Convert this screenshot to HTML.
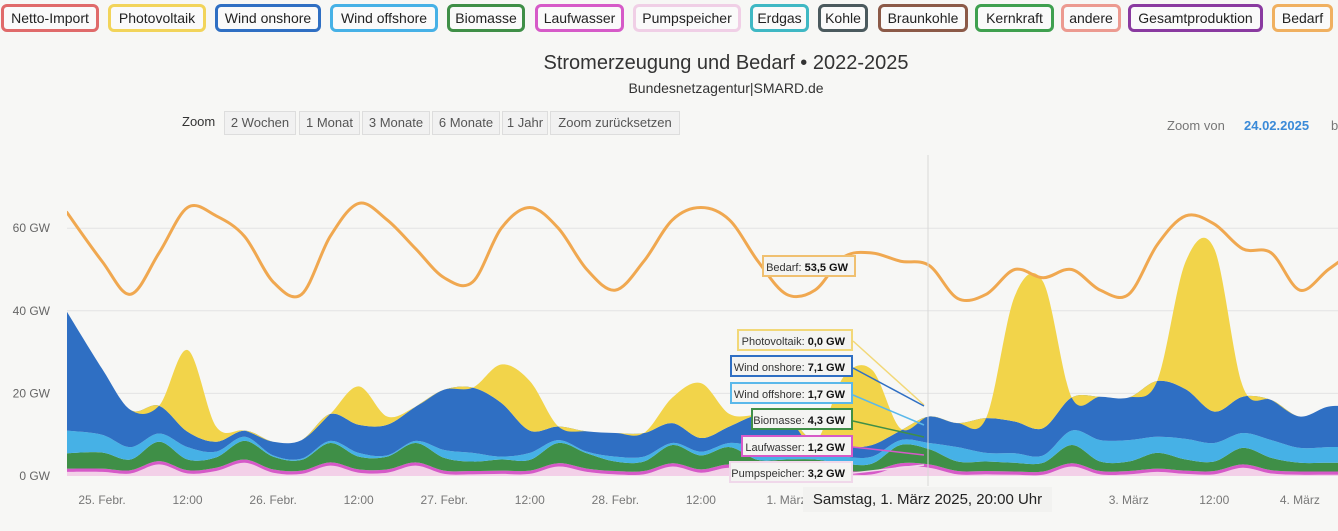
<!DOCTYPE html>
<html><head><meta charset="utf-8">
<style>
body{margin:0;width:1338px;height:531px;overflow:hidden;background:#f7f7f5;font-family:"Liberation Sans",sans-serif;position:relative}
.lg{position:absolute;top:4px;height:22px;border:3px solid;border-radius:6px;font-size:14px;color:#222;line-height:22px;text-align:center;box-sizing:content-box;background:#fafafa}
.zb{position:absolute;top:111px;height:22px;line-height:22px;border:1px solid #ddd;background:#f1f1f1;font-size:13px;color:#555;text-align:center}
.tt{position:absolute;height:22px;line-height:22px;border:2px solid;background:#f4f4f2;font-size:11px;color:#333;text-align:right;padding-right:6px;box-sizing:border-box}
.tt b{color:#111}
</style></head><body>
<div class="lg" style="left:1px;width:92px;border-color:#e06a6a">Netto-Import</div>
<div class="lg" style="left:108px;width:92px;border-color:#f2d45a">Photovoltaik</div>
<div class="lg" style="left:215px;width:100px;border-color:#2f6fc3">Wind onshore</div>
<div class="lg" style="left:330px;width:102px;border-color:#46b1e6">Wind offshore</div>
<div class="lg" style="left:447px;width:72px;border-color:#3f8f47">Biomasse</div>
<div class="lg" style="left:535px;width:83px;border-color:#d65ac8">Laufwasser</div>
<div class="lg" style="left:633px;width:102px;border-color:#f0cfe6">Pumpspeicher</div>
<div class="lg" style="left:750px;width:53px;border-color:#3fb8c4">Erdgas</div>
<div class="lg" style="left:818px;width:44px;border-color:#4b5a5e">Kohle</div>
<div class="lg" style="left:878px;width:84px;border-color:#8c5a48">Braunkohle</div>
<div class="lg" style="left:975px;width:73px;border-color:#3fa04f">Kernkraft</div>
<div class="lg" style="left:1061px;width:54px;border-color:#ec9a90">andere</div>
<div class="lg" style="left:1128px;width:129px;border-color:#8a3aa0">Gesamtproduktion</div>
<div class="lg" style="left:1272px;width:55px;border-color:#f0b060">Bedarf</div>

<div style="position:absolute;left:426px;width:600px;top:52px;text-align:center;font-size:20px;color:#333">Stromerzeugung und Bedarf &#8226; 2022-2025</div>
<div style="position:absolute;left:526px;width:400px;top:80px;text-align:center;font-size:14px;color:#333">Bundesnetzagentur|SMARD.de</div>

<div style="position:absolute;left:182px;top:114px;font-size:13px;color:#333">Zoom</div>
<div class="zb" style="left:224px;width:70px">2 Wochen</div>
<div class="zb" style="left:299px;width:59px">1 Monat</div>
<div class="zb" style="left:362px;width:66px">3 Monate</div>
<div class="zb" style="left:432px;width:66px">6 Monate</div>
<div class="zb" style="left:502px;width:44px">1 Jahr</div>
<div class="zb" style="left:550px;width:128px">Zoom zurücksetzen</div>
<div style="position:absolute;left:1167px;top:118px;font-size:13px;color:#777">Zoom von</div>
<div style="position:absolute;left:1244px;top:118px;font-size:13px;color:#3a8ad8;font-weight:bold">24.02.2025</div>
<div style="position:absolute;left:1331px;top:118px;font-size:13px;color:#777">b</div>

<svg id="chart" width="1338" height="531" style="position:absolute;left:0;top:0">
<defs><clipPath id="pc"><rect x="67" y="140" width="1271" height="345"/></clipPath></defs>
<g id="grid"></g><g id="areas" clip-path="url(#pc)"></g><g id="axes"></g>
</svg>

<div class="tt" style="left:762px;top:255px;width:94px;border-color:#f0c070">Bedarf: <b>53,5 GW</b></div>
<div class="tt" style="left:737px;top:329px;width:116px;border-color:#f2d878">Photovoltaik: <b>0,0 GW</b></div>
<div class="tt" style="left:730px;top:355px;width:123px;border-color:#2f6fc3">Wind onshore: <b>7,1 GW</b></div>
<div class="tt" style="left:730px;top:382px;width:123px;border-color:#5ab8ea">Wind offshore: <b>1,7 GW</b></div>
<div class="tt" style="left:751px;top:408px;width:102px;border-color:#3f8f47">Biomasse: <b>4,3 GW</b></div>
<div class="tt" style="left:741px;top:435px;width:112px;border-color:#d65ac8">Laufwasser: <b>1,2 GW</b></div>
<div class="tt" style="left:729px;top:461px;width:124px;border-color:#f0d8ea">Pumpspeicher: <b>3,2 GW</b></div>
<div style="position:absolute;left:803px;top:487px;width:249px;height:25px;line-height:25px;background:#f2f2f0;font-size:15px;color:#222;text-align:center">Samstag, 1. März 2025, 20:00 Uhr</div>

<script>
const times=[-5,0,4,8,12,16,20,24,28,32,36,40,44,48,52,56,60,64,68,72,76,80,84,88,92,96,100,104,108,112,116,120,124,128,132,136,140,144,148,152,156,160,164,168,172,176];
const pump=[1.0,1.0,0.6,2.8,0.6,1.2,3.2,0.8,0.5,2.5,0.8,0.8,2.5,0.5,0.4,0.5,0.5,2.3,1.0,0.4,0.4,2.3,0.8,2.0,0.6,0.6,0.6,0.4,0.4,2.3,2.0,0.4,0.4,0.3,0.3,2.3,0.4,0.4,1.0,0.5,0.4,2.0,0.6,0.3,0.3,0.3];
const lauf=[0.8,0.8,0.8,0.8,0.8,0.8,0.8,0.8,0.8,0.8,0.8,0.8,0.8,0.8,0.8,0.8,0.8,0.8,0.8,0.8,0.8,0.8,0.8,0.8,0.8,0.8,0.8,0.8,0.8,0.8,0.8,0.8,0.8,0.8,0.8,0.8,0.8,0.8,0.8,0.8,0.8,0.8,0.8,0.8,0.8,0.8];
const bio=[3.7,3.9,2.6,4.7,2.6,2.5,4.5,3.1,2.6,4.7,3.1,3.1,4.7,3.1,2.3,2.7,2.6,4.9,3.7,2.3,2.3,4.4,3.4,4.2,2.5,2.6,2.6,1.8,1.8,4.4,3.7,2.3,2.3,2.1,2.1,4.4,2.3,2.3,3.8,2.7,2.3,4.0,3.0,2.1,2.1,2.1];
const offshore=[5.5,4.3,3.0,2.0,3.0,1.4,1.0,0.3,0.3,0.5,0.9,0.3,0.5,1.9,2.1,0.7,1.7,0.7,0.4,1.2,1.2,0.5,0.9,1.0,3.1,2.3,2.0,1.7,1.7,1.2,1.5,3.5,2.1,2.3,1.8,3.5,5.2,5.2,3.9,5.0,4.5,3.6,4.3,3.6,3.8,3.8];
const onshore=[29,16,9,6.7,3.7,2.4,1.5,3.3,4.5,6.5,6.8,7.4,8.3,14.6,15.8,13,5.4,3.3,4.9,5.7,5.7,4.8,3.3,4.0,7.8,8.1,2.0,2.3,2.8,2.3,6.4,5.8,8.4,7.7,6.6,8.0,10.5,10.3,13.5,12,7.6,8.8,9.7,7.6,9.8,9.8];
const pv=[0,0,0,0,19.8,3.7,0,0,0,0,9.3,2.0,0,0,0,9.3,12,0,0,0,0,6.2,13.3,3.0,0,0,0,17,18.2,0.5,0,0,0,30.3,35.4,0,0,0,0,31,39.4,2.5,0,0,0,0];
const bedarf=[64,52,44,54,65,63,58,47,44,58,66,62,55,48,47,60,65,60,50,45,52,62,65,62,52,44,45,53,54,52,51,43,44,50,48,50,45,44,56,63,61,55,54,45,50,55];
const yTicks=[0,20,40,60];
const dayLabels=["25. Febr.","26. Febr.","27. Febr.","28. Febr.","1. März","2. März","3. März","4. März"];

const NS="http://www.w3.org/2000/svg";
const X=t=>102+t*7.13, Y=v=>476-v*4.13;
function mk(tag,attrs,parent){const e=document.createElementNS(NS,tag);for(const k in attrs)e.setAttribute(k,attrs[k]);parent.appendChild(e);return e;}
function spline(pts){let d="";for(let i=0;i<pts.length-1;i++){const p0=pts[Math.max(i-1,0)],p1=pts[i],p2=pts[i+1],p3=pts[Math.min(i+2,pts.length-1)];const c1=[p1[0]+(p2[0]-p0[0])/6,p1[1]+(p2[1]-p0[1])/6],c2=[p2[0]-(p3[0]-p1[0])/6,p2[1]-(p3[1]-p1[1])/6];d+=" C"+c1[0]+","+c1[1]+" "+c2[0]+","+c2[1]+" "+p2[0]+","+p2[1];}return d;}
const grid=document.getElementById('grid'),areas=document.getElementById('areas'),axes=document.getElementById('axes');
yTicks.forEach(v=>{
 if(v>0){const gl=mk('line',{x1:67,x2:1338,y1:Y(v),y2:Y(v),stroke:'#e4e4e4','stroke-width':1},grid);
 
 }
 const tx=mk('text',{x:50,y:Y(v)+4,'text-anchor':'end','font-size':12,fill:'#666','font-family':'Liberation Sans, sans-serif'},axes);
 tx.textContent=v+" GW";
 
 
});
for(let d=0;d<dayLabels.length;d++){
 const t=mk('text',{x:X(d*24),y:504,'text-anchor':'middle','font-size':12,fill:'#777','font-family':'Liberation Sans, sans-serif'},axes);
 t.textContent=dayLabels[d];
 
 
 if(d!==4&&d!==5){const n=mk('text',{x:X(d*24+12),y:504,'text-anchor':'middle','font-size':12,fill:'#777','font-family':'Liberation Sans, sans-serif'},axes);
 n.textContent="12:00";
 
 }
}
const layers=[["pumpspeicher",pump,"#f3d0e8"],["laufwasser",lauf,"#d65ac8"],["biomasse",bio,"#3f8f47"],["wind-offshore",offshore,"#46b1e6"],["wind-onshore",onshore,"#2f6fc3"],["photovoltaik",pv,"#f2d44a"]];
let base=times.map(()=>0);
layers.forEach(([name,vals,col])=>{
 const top=base.map((b,i)=>b+vals[i]);
 const tp=times.map((t,i)=>[X(t),Y(top[i])]);
 const bp=times.map((t,i)=>[X(t),Y(base[i])]).reverse();
 const d="M"+tp[0][0]+","+tp[0][1]+spline(tp)+" L"+bp[0][0]+","+bp[0][1]+spline(bp)+" Z";
 const p=mk('path',{d:d,fill:col},areas);
 
 
 base=top;
});
const bl=times.map((t,i)=>[X(t),Y(bedarf[i])]);
const line=mk('path',{d:"M"+bl[0][0]+","+bl[0][1]+spline(bl),fill:'none',stroke:'#f0a850','stroke-width':3},areas);


const ch=mk('line',{x1:928,x2:928,y1:155,y2:486,stroke:'#d8d8d8','stroke-width':1},axes);


[[341,'#f2d878',405],[368,'#2f6fc3',406],[395,'#5ab8ea',425],[421,'#3f8f47',437],[447,'#d65ac8',455],[473,'#f0d8ea',465]].forEach(([y,c,ty],i)=>{
 const l=mk('line',{x1:853,y1:y,x2:924,y2:ty,stroke:c,'stroke-width':1.5},axes);
 
 
});
</script>
</body></html>
